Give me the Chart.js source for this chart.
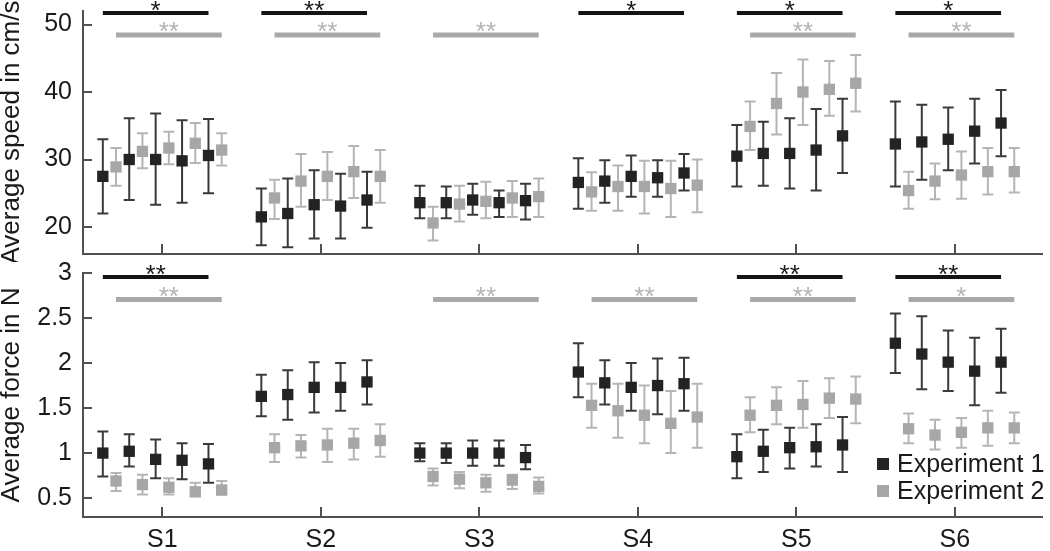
<!DOCTYPE html>
<html>
<head>
<meta charset="utf-8">
<script src="https://cdn.jsdelivr.net/npm/chart.js@4.4.1/dist/chart.umd.min.js"></script>
<style>
html, body { margin: 0; padding: 0; background: #fff; }
#wrap { position: relative; width: 1050px; height: 551px; }
canvas { position: absolute; left: 0; }
#speed { top: 0; }
#force { top: 262px; }
</style>
</head>
<body>
<div id="wrap">
  <canvas id="speed" width="1050" height="262" style="width:1050px;height:262px"></canvas>
  <canvas id="force" width="1050" height="289" style="width:1050px;height:289px"></canvas>
</div>
<script>
'use strict'

var groupLabels = ['S1', 'S2', 'S3', 'S4', 'S5', 'S6'];
var seriesNames = ['Experiment 1', 'Experiment 2'];

var speedTicks = [20, 30, 40, 50];
var forceTicks = [0.5, 1, 1.5, 2, 2.5, 3];
var forceTickLabels = ['0.5', '1', '1.5', '2', '2.5', '3'];

// average speed (cm/s), 5 values per group
var speedMean1 = [[27.5, 30.0, 30.0, 29.8, 30.6], [21.5, 22.0, 23.3, 23.1, 24.0], [23.6, 23.6, 24.0, 23.6, 23.9],
                  [26.6, 26.8, 27.5, 27.3, 28.0], [30.5, 30.9, 30.9, 31.4, 33.5], [32.3, 32.6, 33.0, 34.2, 35.4]];
var speedHigh1 = [[33.0, 36.1, 36.8, 35.8, 36.0], [25.7, 27.2, 28.4, 27.9, 28.2], [26.1, 26.0, 26.4, 25.4, 26.4],
                  [30.2, 29.9, 30.6, 29.9, 30.8], [35.1, 35.6, 36.1, 37.5, 39.0], [38.6, 38.1, 37.7, 39.0, 40.3]];
var speedLow1  = [[22.0, 24.0, 23.3, 23.6, 25.0], [17.3, 17.0, 18.3, 18.3, 19.9], [21.3, 21.3, 21.8, 21.5, 21.1],
                  [22.7, 23.6, 24.5, 24.5, 25.4], [26.0, 26.1, 25.7, 25.4, 28.0], [26.0, 27.0, 28.4, 29.4, 30.5]];
var speedMean2 = [[28.9, 31.2, 31.7, 32.4, 31.4], [24.3, 26.8, 27.5, 28.2, 27.5], [20.6, 23.4, 23.8, 24.3, 24.5],
                  [25.2, 26.0, 26.0, 25.7, 26.2], [34.9, 38.3, 40.0, 40.4, 41.3], [25.4, 26.8, 27.7, 28.2, 28.2]];
var speedHigh2 = [[31.7, 33.9, 34.1, 35.4, 33.9], [27.0, 30.8, 31.1, 32.0, 31.4], [23.0, 26.1, 26.7, 26.8, 27.2],
                  [28.1, 29.1, 29.8, 29.8, 30.0], [38.6, 42.8, 44.8, 44.6, 45.5], [28.2, 29.4, 31.2, 31.7, 31.7]];
var speedLow2  = [[26.1, 28.7, 29.3, 29.5, 29.1], [21.2, 23.0, 24.0, 24.3, 23.6], [18.0, 20.8, 21.3, 21.5, 21.5],
                  [22.4, 22.4, 22.0, 21.5, 22.2], [31.4, 33.7, 35.1, 36.5, 37.1], [22.7, 24.1, 24.2, 24.8, 25.1]];

// average force (N)
var forceMean1 = [[1.00, 1.02, 0.93, 0.92, 0.88], [1.63, 1.65, 1.73, 1.73, 1.79], [1.00, 1.00, 1.00, 1.00, 0.95],
                  [1.90, 1.78, 1.73, 1.75, 1.77], [0.96, 1.02, 1.06, 1.07, 1.09], [2.22, 2.10, 2.01, 1.91, 2.01]];
var forceHigh1 = [[1.24, 1.21, 1.15, 1.11, 1.10], [1.87, 1.92, 2.01, 2.00, 2.03], [1.11, 1.11, 1.14, 1.14, 1.09],
                  [2.22, 2.03, 2.00, 2.05, 2.06], [1.21, 1.26, 1.28, 1.32, 1.40], [2.55, 2.52, 2.36, 2.28, 2.38]];
var forceLow1  = [[0.74, 0.85, 0.72, 0.71, 0.67], [1.41, 1.37, 1.45, 1.47, 1.54], [0.91, 0.89, 0.86, 0.86, 0.82],
                  [1.62, 1.54, 1.47, 1.43, 1.47], [0.72, 0.79, 0.83, 0.85, 0.79], [1.89, 1.71, 1.69, 1.53, 1.67]];
var forceMean2 = [[0.69, 0.65, 0.62, 0.57, 0.59], [1.06, 1.08, 1.09, 1.11, 1.14], [0.74, 0.71, 0.67, 0.70, 0.63],
                  [1.53, 1.47, 1.42, 1.33, 1.40], [1.42, 1.53, 1.54, 1.61, 1.60], [1.27, 1.20, 1.23, 1.28, 1.28]];
var forceHigh2 = [[0.78, 0.76, 0.72, 0.67, 0.69], [1.21, 1.20, 1.27, 1.27, 1.32], [0.83, 0.79, 0.76, 0.76, 0.73],
                  [1.77, 1.77, 1.75, 1.69, 1.77], [1.62, 1.73, 1.80, 1.83, 1.85], [1.44, 1.37, 1.39, 1.47, 1.45]];
var forceLow2  = [[0.58, 0.54, 0.54, 0.52, 0.54], [0.90, 0.95, 0.90, 0.93, 0.96], [0.64, 0.61, 0.57, 0.60, 0.55],
                  [1.28, 1.17, 1.11, 1.00, 1.06], [1.23, 1.32, 1.28, 1.39, 1.33], [1.11, 1.04, 1.06, 1.08, 1.11]];

// significance marks per group ('' = none)
var speedSig1 = ['*', '**', '', '*', '*', '*'];
var speedSig2 = ['**', '**', '**', '', '**', '**'];
var forceSig1 = ['**', '', '', '', '**', '**'];
var forceSig2 = ['**', '', '**', '**', '**', '*'];

var FONT = "'Liberation Sans', Arial, Helvetica, sans-serif";
var AXIS = '#505050';
var colors = ['#232323', '#a7a7a7'];
var errColors = ['#3a3a3a', '#b5b5b5'];

// 10 slots per group (black/gray alternating), 1/12 apart
var slotStart = -0.375, slotStep = 1 / 12;

function buildPoints(mean, low, high, series) {
    var pts = [];
    for (let g = 0; g < mean.length; g++) {
        for (let k = 0; k < mean[g].length; k++) {
            pts.push({
                x: g + 1 + slotStart + (2 * k + series) * slotStep,
                y: mean[g][k], lo: low[g][k], hi: high[g][k]
            });
        }
    }
    return pts;
}

function makeDataset(i, pts) {
    return {
        label: seriesNames[i],
        data: pts,
        backgroundColor: colors[i],
        borderColor: colors[i],
        borderWidth: 0,
        pointStyle: 'rect',
        pointRadius: 8,
        pointHoverRadius: 8,
        errorColor: errColors[i]
    };
}

var errorBars = {
    id: 'errorBars',
    beforeDatasetsDraw(chart) {
        var ctx = chart.ctx, y = chart.scales.y;
        chart.data.datasets.forEach(function (ds, i) {
            var meta = chart.getDatasetMeta(i);
            ctx.save();
            ctx.strokeStyle = ds.errorColor;
            ctx.lineWidth = 2;
            meta.data.forEach(function (pt, j) {
                var d = ds.data[j];
                var top = y.getPixelForValue(d.hi), bot = y.getPixelForValue(d.lo);
                ctx.beginPath();
                ctx.moveTo(pt.x, top); ctx.lineTo(pt.x, bot);
                ctx.moveTo(pt.x - 5.5, top); ctx.lineTo(pt.x + 5.5, top);
                ctx.moveTo(pt.x - 5.5, bot); ctx.lineTo(pt.x + 5.5, bot);
                ctx.stroke();
            });
            ctx.restore();
        });
    }
};

var sigBars = {
    id: 'sigBars',
    afterDatasetsDraw(chart, args, opts) {
        if (!opts.rows) return;
        var ctx = chart.ctx, x = chart.scales.x, top = chart.chartArea.top;
        ctx.save();
        opts.rows.forEach(function (row) {
            row.marks.forEach(function (mark, g) {
                if (!mark) return;
                var x0 = x.getPixelForValue(g + 1 + slotStart + row.series * slotStep);
                var x1 = x.getPixelForValue(g + 1 + slotStart + (8 + row.series) * slotStep);
                var yb = top + row.offset;
                ctx.fillStyle = row.color;
                ctx.fillRect(x0, yb - row.width / 2, x1 - x0, row.width);
                ctx.fillStyle = row.starColor;
                ctx.font = '26px ' + FONT;
                ctx.textAlign = 'center';
                ctx.textBaseline = 'alphabetic';
                ctx.fillText(mark, (x0 + x1) / 2, yb + row.starDy);
            });
        });
        ctx.restore();
    }
};

var innerTicks = {
    id: 'innerTicks',
    afterDraw(chart) {
        var ctx = chart.ctx, area = chart.chartArea;
        var xs = chart.scales.x, ys = chart.scales.y;
        ctx.save();
        ctx.strokeStyle = AXIS;
        ctx.lineWidth = 2;
        ctx.beginPath();
        ys.ticks.forEach(function (t) {
            var py = Math.round(ys.getPixelForValue(t.value));
            ctx.moveTo(area.left, py); ctx.lineTo(area.left + 9, py);
        });
        xs.ticks.forEach(function (t) {
            var px = Math.round(xs.getPixelForValue(t.value));
            ctx.moveTo(px, area.bottom); ctx.lineTo(px, area.bottom - 10);
        });
        ctx.stroke();
        ctx.restore();
    }
};

var boxLegend = {
    id: 'boxLegend',
    afterDraw(chart, args, opts) {
        if (!opts.show) return;
        var ctx = chart.ctx;
        ctx.save();
        ctx.font = '25px ' + FONT;
        ctx.textBaseline = 'middle';
        ctx.textAlign = 'left';
        chart.data.datasets.forEach(function (ds, i) {
            var cy = opts.y + i * opts.gap;
            ctx.fillStyle = ds.backgroundColor;
            ctx.fillRect(opts.x, cy - 6, 12, 12);
            ctx.fillStyle = '#1a1a1a';
            ctx.fillText(ds.label, opts.x + 20, cy + 1);
        });
        ctx.restore();
    }
};

Chart.defaults.font.family = FONT;
Chart.defaults.color = '#1a1a1a';

function panelConfig(p) {
    return {
        type: 'scatter',
        data: {
            datasets: [
                makeDataset(0, buildPoints(p.mean1, p.low1, p.high1, 0)),
                makeDataset(1, buildPoints(p.mean2, p.low2, p.high2, 1))
            ]
        },
        options: {
            responsive: false,
            animation: false,
            events: [],
            layout: { padding: { top: 11, bottom: p.padBottom, left: 0, right: 0 } },
            plugins: {
                legend: { display: false },
                tooltip: { enabled: false },
                sigBars: { rows: p.sigRows },
                boxLegend: p.legend
            },
            scales: {
                x: {
                    type: 'linear',
                    min: 0.5,
                    max: 6.55,
                    grid: { display: false, drawTicks: false },
                    border: { display: true, color: AXIS, width: 2 },
                    afterBuildTicks: function (s) {
                        s.ticks = groupLabels.map(function (_, i) { return { value: i + 1 }; });
                    },
                    ticks: {
                        display: p.showX,
                        padding: 8,
                        font: { size: 25 },
                        color: '#1a1a1a',
                        callback: function (v, i) { return groupLabels[i]; }
                    },
                    afterFit: function (s) {
                        s.height = p.xHeight;
                        s.paddingLeft = 0;
                        s.paddingRight = 0;
                    }
                },
                y: {
                    type: 'linear',
                    min: p.min,
                    max: p.max,
                    grid: { display: false, drawTicks: false },
                    border: { display: true, color: AXIS, width: 2 },
                    afterBuildTicks: function (s) {
                        s.ticks = p.ticks.map(function (v) { return { value: v }; });
                    },
                    ticks: {
                        padding: 11,
                        font: { size: 25 },
                        color: '#1a1a1a',
                        callback: function (v, i) { return p.tickLabels[i]; }
                    },
                    title: {
                        display: true,
                        text: p.title,
                        font: { size: 26, lineHeight: 0.92 },
                        padding: 0,
                        color: '#1a1a1a'
                    },
                    afterFit: function (s) {
                        s.width = 83;
                        s.paddingTop = 0;
                        s.paddingBottom = 0;
                    }
                }
            }
        },
        plugins: [errorBars, sigBars, innerTicks, boxLegend]
    };
}

function sigRows(marks1, marks2, off1, off2) {
    return [
        { marks: marks1, series: 0, offset: off1, width: 4, color: '#141414', starColor: '#1a1a1a', starDy: 6 },
        { marks: marks2, series: 1, offset: off2, width: 5, color: '#a9a9a9', starColor: '#b3b3b3', starDy: 5 }
    ];
}

new Chart(document.getElementById('speed'), panelConfig({
    mean1: speedMean1, low1: speedLow1, high1: speedHigh1,
    mean2: speedMean2, low2: speedLow2, high2: speedHigh2,
    min: 16, max: 52, ticks: speedTicks, tickLabels: speedTicks.map(String),
    title: 'Average speed in cm/s',
    showX: false, xHeight: 0, padBottom: 7,
    sigRows: sigRows(speedSig1, speedSig2, 2, 24),
    legend: { show: false }
}));

new Chart(document.getElementById('force'), panelConfig({
    mean1: forceMean1, low1: forceLow1, high1: forceHigh1,
    mean2: forceMean2, low2: forceLow2, high2: forceHigh2,
    min: 0.29, max: 3, ticks: forceTicks, tickLabels: forceTickLabels,
    title: 'Average force in N',
    showX: true, xHeight: 34, padBottom: 0,
    sigRows: sigRows(forceSig1, forceSig2, 4, 26.5),
    legend: { show: true, x: 877, y: 202, gap: 27 }
}));
</script>
</body>
</html>
